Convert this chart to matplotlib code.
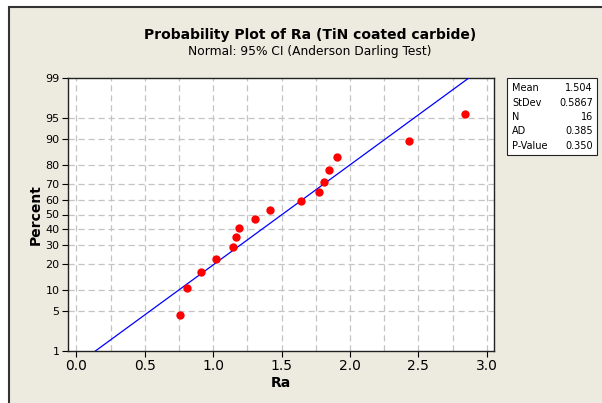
import numpy as np
import matplotlib.pyplot as plt
from matplotlib.patches import Rectangle
from statistics import NormalDist

# data
ra = [0.756, 0.807, 0.909, 1.023, 1.148, 1.167, 1.189, 1.306,
      1.414, 1.643, 1.773, 1.811, 1.849, 1.906, 2.434, 2.841]
percent = [4.3, 10.4, 16.5, 22.6, 28.7, 34.8, 40.9, 47.0,
           53.0, 59.1, 65.2, 71.3, 77.4, 83.5, 89.6, 95.7]
mean = 1.504
stdev = 0.5867
stat_labels = ['Mean', 'StDev', 'N', 'AD', 'P-Value']
stat_values = ['1.504', '0.5867', '16', '0.385', '0.350']
y_ticks = [1, 5, 10, 20, 30, 40, 50, 60, 70, 80, 90, 95, 99]
x_ticks = [0.0, 0.5, 1.0, 1.5, 2.0, 2.5, 3.0]

nd = NormalDist()
_inv = np.vectorize(nd.inv_cdf, otypes=[float])
_cdf = np.vectorize(nd.cdf, otypes=[float])


def to_z(p):
    p = np.clip(np.asarray(p, dtype=float) / 100.0, 1e-9, 1 - 1e-9)
    return _inv(p)


def from_z(z):
    return _cdf(np.asarray(z, dtype=float)) * 100.0


bg = '#EDEAE0'
fig = plt.figure(figsize=(6.02, 4.03), dpi=100, facecolor='white')
fig.patches.append(Rectangle((9 / 602, -0.01), 1.0, 1 - 7 / 403 + 0.01,
                             transform=fig.transFigure, facecolor=bg,
                             edgecolor='#333333', linewidth=1.5, zorder=-2))

ax = fig.add_axes([68 / 602, 1 - 351 / 403, 426 / 602, 273 / 403])
ax.set_zorder(1)
ax.set_facecolor('white')
ax.set_yscale('function', functions=(to_z, from_z))
ax.set_ylim(1, 99)
ax.set_xlim(-0.061, 3.053)

# fitted line
pl = np.array([1, 99])
zl = to_z(pl)
ax.plot(mean + stdev * zl, pl, color='#0000FF', linewidth=0.9, zorder=3)

ax.plot(ra, percent, 'o', color='#FF0000', markersize=6, markeredgewidth=0, zorder=4)

ax.set_yticks(y_ticks)
ax.set_yticklabels([str(t) for t in y_ticks], fontsize=8)
ax.set_xticks(x_ticks)
ax.set_xticklabels(['%.1f' % t for t in x_ticks], fontsize=10)
ax.minorticks_off()
ax.tick_params(direction='out', length=4, width=0.8, pad=2)

for t in y_ticks[1:-1]:
    ax.axhline(t, color='#C4C4C4', linestyle=(0, (5, 3)), linewidth=0.9, zorder=1)
for t in np.arange(0, 3.01, 0.25):
    ax.axvline(t, color='#C4C4C4', linestyle=(0, (5, 3)), linewidth=0.9, zorder=1)

for s in ax.spines.values():
    s.set_linewidth(1.0)
    s.set_color('#222222')

ax.set_xlabel('Ra', fontsize=10, fontweight='bold', labelpad=2)
ax.set_ylabel('Percent', fontsize=10, fontweight='bold', labelpad=2)

fig.text(310 / 602, 1 - 35 / 403, 'Probability Plot of Ra (TiN coated carbide)',
         ha='center', va='center', fontsize=10, fontweight='bold')
fig.text(310 / 602, 1 - 52 / 403, 'Normal: 95% CI (Anderson Darling Test)',
         ha='center', va='center', fontsize=8.8)

# statistics box
fig.patches.append(Rectangle((507 / 602, 1 - 155 / 403), 90 / 602, 77 / 403,
                             transform=fig.transFigure, facecolor='white',
                             edgecolor='#222222', linewidth=0.8, zorder=1))
for i, (lab, val) in enumerate(zip(stat_labels, stat_values)):
    yy = 1 - (88 + 14.5 * i) / 403
    fig.text(512 / 602, yy, lab, ha='left', va='center', fontsize=7)
    fig.text(593 / 602, yy, val, ha='right', va='center', fontsize=7)

fig.savefig('out.png', dpi=100, facecolor=fig.get_facecolor())
